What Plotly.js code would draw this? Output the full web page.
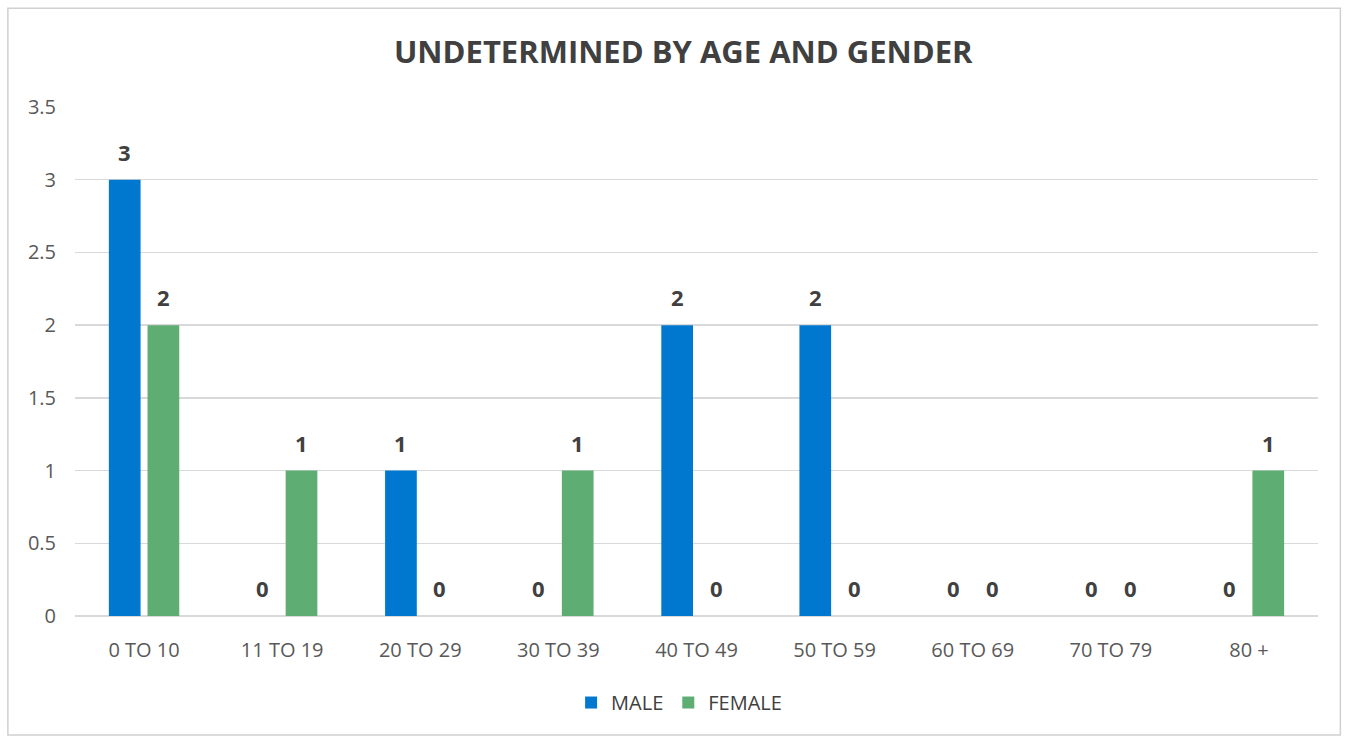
<!DOCTYPE html>
<html><head><meta charset="utf-8">
<script src="https://cdn.plot.ly/plotly-3.0.1.min.js"></script>
<style>html,body{margin:0;padding:0;background:#fff}#chart{width:1353px;height:740px}</style>
</head><body><div id="chart"></div>
<script>
const categories = ["0 TO 10","11 TO 19","20 TO 29","30 TO 39","40 TO 49","50 TO 59","60 TO 69","70 TO 79","80 +"];
const male = [3,0,1,0,2,2,0,0,0];
const female = [2,1,0,1,0,0,0,0,1];
const yTicks = [0,0.5,1,1.5,2,2.5,3,3.5];
const yTickText = ["0","0.5","1","1.5","2","2.5","3","3.5"];

const MALE_C = "#0078CF", FEMALE_C = "#5EAD72";
const font = "Open Sans, Liberation Sans, sans-serif";

const traces = [
  {type:"bar", name:"MALE", x:categories, y:male, marker:{color:MALE_C}},
  {type:"bar", name:"FEMALE", x:categories, y:female, marker:{color:FEMALE_C}}
];

// value labels above bars (offset half a group slot)
const annotations = [];
const slotPx = 19.5;
[[male,-slotPx],[female,slotPx]].forEach(([vals,dx])=>{
  vals.forEach((v,i)=>{
    annotations.push({x:categories[i], y:v, xref:"x", yref:"y", text:"<b>"+v+"</b>",
      showarrow:false, xshift:dx, yshift:28, font:{family:font,size:22,color:"#404040"}});
  });
});

const layout = {
  width:1353, height:740,
  margin:{l:75,r:35,t:107,b:124},
  paper_bgcolor:"#fff", plot_bgcolor:"#fff",
  title:{text:"<b>UNDETERMINED BY AGE AND GENDER</b>", x:0.505, xanchor:"center", y:0.929, yanchor:"middle",
    font:{family:font,size:31,color:"#404040"}},
  barmode:"group", bargap:0.44, bargroupgap:0.18,
  xaxis:{type:"category", tickfont:{family:font,size:20,color:"#595959"}, showgrid:false,
    showline:false, ticks:"", ticklabelstandoff:20, fixedrange:true},
  yaxis:{range:[0,3.5], tickvals:yTicks, ticktext:yTickText, showgrid:true, gridcolor:"#D9D9D9", gridwidth:1.5,
    zeroline:true, zerolinecolor:"#D9D9D9", zerolinewidth:1.5, showline:false,
    tickfont:{family:font,size:20,color:"#595959"}, ticklabelstandoff:18, fixedrange:true},
  legend:{orientation:"h", x:0.486, xanchor:"center", y:-0.17, yanchor:"middle",
    font:{family:font,size:20,color:"#404040"}, itemwidth:30},
  showlegend:true,
  annotations:annotations,
  shapes:[{type:"rect", xref:"paper", yref:"paper", x0:-0.054, x1:1.018, y0:-0.234, y1:1.194,
    line:{color:"#D0D0D0", width:1.5}, fillcolor:"rgba(0,0,0,0)"}]
};
Plotly.newPlot("chart", traces, layout, {displayModeBar:false, staticPlot:true});
</script></body></html>
